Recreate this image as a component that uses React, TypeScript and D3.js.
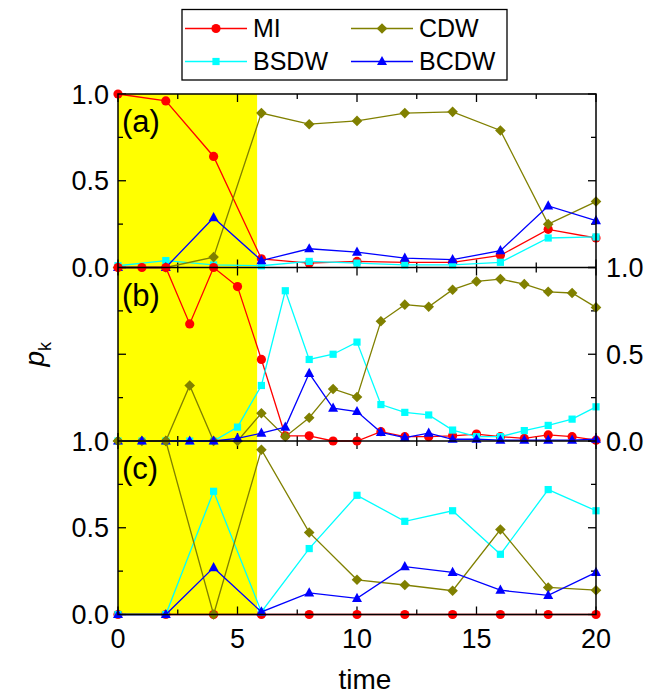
import React from "react";
import * as d3 from "d3";

const timeA = [0, 2, 4, 6, 8, 10, 12, 14, 16, 18, 20];
const aMI = [1.0, 0.96, 0.64, 0.05, 0.025, 0.035, 0.03, 0.03, 0.07, 0.22, 0.17];
const aBSDW = [0.01, 0.04, 0.015, 0.01, 0.035, 0.025, 0.015, 0.015, 0.03, 0.17, 0.176];
const aCDW = [0, 0, 0.06, 0.89, 0.826, 0.845, 0.89, 0.897, 0.79, 0.25, 0.38];
const aBCDW = [0, 0, 0.287, 0.04, 0.108, 0.089, 0.054, 0.045, 0.097, 0.355, 0.27];

const timeB = [0, 1, 2, 3, 4, 5, 6, 7, 8, 9, 10, 11, 12, 13, 14, 15, 16, 17, 18, 19, 20];
const bMI = [1, 1, 1, 0.675, 1, 0.89, 0.47, 0.03, 0.03, 0, 0, 0.054, 0.025, 0.025, 0.03, 0.04, 0.025, 0.015, 0.035, 0.025, 0.005];
const bBSDW = [0, 0, 0, 0, 0, 0.08, 0.32, 0.866, 0.47, 0.5, 0.57, 0.21, 0.165, 0.15, 0.063, 0.025, 0.025, 0.06, 0.09, 0.126, 0.197];
const bCDW = [0, 0, 0, 0.32, 0, 0, 0.16, 0.025, 0.134, 0.3, 0.254, 0.69, 0.786, 0.774, 0.872, 0.92, 0.933, 0.904, 0.86, 0.853, 0.77];
const bBCDW = [0, 0, 0, 0, 0, 0.015, 0.045, 0.08, 0.39, 0.19, 0.17, 0.05, 0.02, 0.045, 0.01, 0.01, 0.005, 0.005, 0.005, 0.005, 0.01];

const timeC = [0, 2, 4, 6, 8, 10, 12, 14, 16, 18, 20];
const cMI = [0, 0, 0, 0, 0, 0, 0, 0, 0, 0, 0];
const cBSDW = [0, 0, 0.71, 0.015, 0.38, 0.687, 0.537, 0.598, 0.347, 0.72, 0.598];
const cCDW = [1, 1, 0, 0.95, 0.473, 0.2, 0.17, 0.137, 0.49, 0.156, 0.14];
const cBCDW = [0, 0, 0.27, 0.015, 0.125, 0.093, 0.276, 0.243, 0.14, 0.11, 0.243];

const seriesNames = ["MI", "BSDW", "CDW", "BCDW"];
const seriesColors = ["#ff0000", "#00ffff", "#808000", "#0000ff"];
const seriesShapes = ["circle", "square", "diamond", "triangle"];
const panelLabels = ["(a)", "(b)", "(c)"];
const xTicksMajor = [0, 5, 10, 15, 20];
const xTicksMinor = [2.5, 7.5, 12.5, 17.5];
const yTicksMajor = [0, 0.5, 1];
const yTicksMinor = [0.25, 0.75];
const shadeRange = [0, 5.82];

const panels = [
  { t: timeA, s: [aMI, aBSDW, aCDW, aBCDW], labels: "left" },
  { t: timeB, s: [bMI, bBSDW, bCDW, bBCDW], labels: "right" },
  { t: timeC, s: [cMI, cBSDW, cCDW, cBCDW], labels: "left" },
];

const W = 662;
const H = 694;
const L = 118;
const R = 596;
const TOP = 94;
const PH = 173.5;
const FONT = "Liberation Sans, Arial, Helvetica, sans-serif";

function Marker({ shape, x, y, color }: { shape: string; x: number; y: number; color: string }) {
  if (shape === "circle") return <circle cx={x} cy={y} r={4.6} fill={color} />;
  if (shape === "square") return <rect x={x - 3.6} y={y - 3.6} width={7.2} height={7.2} fill={color} />;
  if (shape === "diamond")
    return <path d={`M${x},${y - 5.3}L${x + 5.3},${y}L${x},${y + 5.3}L${x - 5.3},${y}Z`} fill={color} />;
  return <path d={`M${x},${y - 5.6}L${x + 5},${y + 3.6}L${x - 5},${y + 3.6}Z`} fill={color} />;
}

export default function App() {
  const x = d3.scaleLinear().domain([0, 20]).range([L, R]);
  const ys = panels.map((_, i) => d3.scaleLinear().domain([0, 1]).range([TOP + PH * (i + 1), TOP + PH * i]));
  const bottom = TOP + PH * 3;

  return (
    <svg width={W} height={H} style={{ position: "absolute", left: 0, top: 0, background: "#fff" }} fontFamily={FONT}>
      <rect x={x(shadeRange[0])} y={TOP} width={x(shadeRange[1]) - x(shadeRange[0])} height={bottom - TOP} fill="#ffff00" />

      {/* frames and ticks */}
      {panels.map((p, i) => {
        const y = ys[i];
        const y0 = y(0);
        const y1 = y(1);
        return (
          <g key={"ax" + i} stroke="#000" strokeWidth={1.3}>
            {xTicksMajor.map((t) => (
              <g key={"xm" + t}>
                <line x1={x(t)} x2={x(t)} y1={y0} y2={y0 - 8} />
                <line x1={x(t)} x2={x(t)} y1={y1} y2={y1 + 8} />
              </g>
            ))}
            {xTicksMinor.map((t) => (
              <g key={"xn" + t}>
                <line x1={x(t)} x2={x(t)} y1={y0} y2={y0 - 5} />
                <line x1={x(t)} x2={x(t)} y1={y1} y2={y1 + 5} />
              </g>
            ))}
            {yTicksMajor.map((t) => (
              <g key={"ym" + t}>
                <line x1={L} x2={L + 8} y1={y(t)} y2={y(t)} />
                <line x1={R} x2={R - 8} y1={y(t)} y2={y(t)} />
              </g>
            ))}
            {yTicksMinor.map((t) => (
              <g key={"yn" + t}>
                <line x1={L} x2={L + 5} y1={y(t)} y2={y(t)} />
                <line x1={R} x2={R - 5} y1={y(t)} y2={y(t)} />
              </g>
            ))}
          </g>
        );
      })}

      {/* data */}
      {panels.map((p, i) => {
        const y = ys[i];
        return (
          <g key={"d" + i}>
            {p.s.map((vals, k) => {
              const line = d3
                .line<number>()
                .x((_, j) => x(p.t[j]))
                .y((v) => y(v));
              return (
                <g key={"s" + k}>
                  <path d={line(vals) || ""} fill="none" stroke={seriesColors[k]} strokeWidth={1.3} />
                  {vals.map((v, j) => (
                    <Marker key={j} shape={seriesShapes[k]} x={x(p.t[j])} y={y(v)} color={seriesColors[k]} />
                  ))}
                </g>
              );
            })}
          </g>
        );
      })}

      {/* frame lines */}
      <g stroke="#000" strokeWidth={1.5} fill="none">
        <rect x={L} y={TOP} width={R - L} height={bottom - TOP} />
        <line x1={L} x2={R} y1={ys[0](0)} y2={ys[0](0)} />
        <line x1={L} x2={R} y1={ys[1](0)} y2={ys[1](0)} />
      </g>

      {/* y tick labels */}
      {panels.map((p, i) => {
        const y = ys[i];
        return (
          <g key={"yl" + i} fontSize={27} fill="#000">
            {yTicksMajor.map((t) =>
              p.labels === "left" ? (
                <text key={t} x={L - 9} y={y(t)} dy="0.36em" textAnchor="end">
                  {d3.format(".1f")(t)}
                </text>
              ) : (
                <text key={t} x={R + 10} y={y(t)} dy="0.36em" textAnchor="start">
                  {d3.format(".1f")(t)}
                </text>
              )
            )}
          </g>
        );
      })}

      {/* panel labels */}
      {panelLabels.map((lab, i) => (
        <text key={lab} x={L + 4} y={TOP + PH * i + 38} fontSize={31} fill="#000">
          {lab}
        </text>
      ))}

      {/* x tick labels */}
      <g fontSize={27} fill="#000">
        {xTicksMajor.map((t) => (
          <text key={t} x={x(t)} y={bottom + 33} textAnchor="middle">
            {t}
          </text>
        ))}
      </g>
      <text x={(L + R) / 2 + 8} y={689} fontSize={28} textAnchor="middle" fill="#000">
        time
      </text>
      <text transform={`translate(44,${TOP + PH * 1.5}) rotate(-90)`} fontSize={28} textAnchor="middle" fill="#000">
        <tspan fontStyle="italic">p</tspan>
        <tspan fontSize={18} dy={7}>k</tspan>
      </text>

      {/* legend */}
      <rect x={182} y={9.5} width={325} height={70.5} fill="#fff" stroke="#000" strokeWidth={1.3} />
      {[0, 2, 1, 3].map((k, idx) => {
        const col = idx % 2;
        const row = Math.floor(idx / 2);
        const lx = 185 + col * 166;
        const cy = 28.5 + row * 33;
        return (
          <g key={"lg" + k}>
            <line x1={lx} x2={lx + 62} y1={cy} y2={cy} stroke={seriesColors[k]} strokeWidth={1.3} />
            <Marker shape={seriesShapes[k]} x={lx + 31} y={cy} color={seriesColors[k]} />
            <text x={lx + 68} y={cy + 8.5} fontSize={25} fill="#000">
              {seriesNames[k]}
            </text>
          </g>
        );
      })}
    </svg>
  );
}
